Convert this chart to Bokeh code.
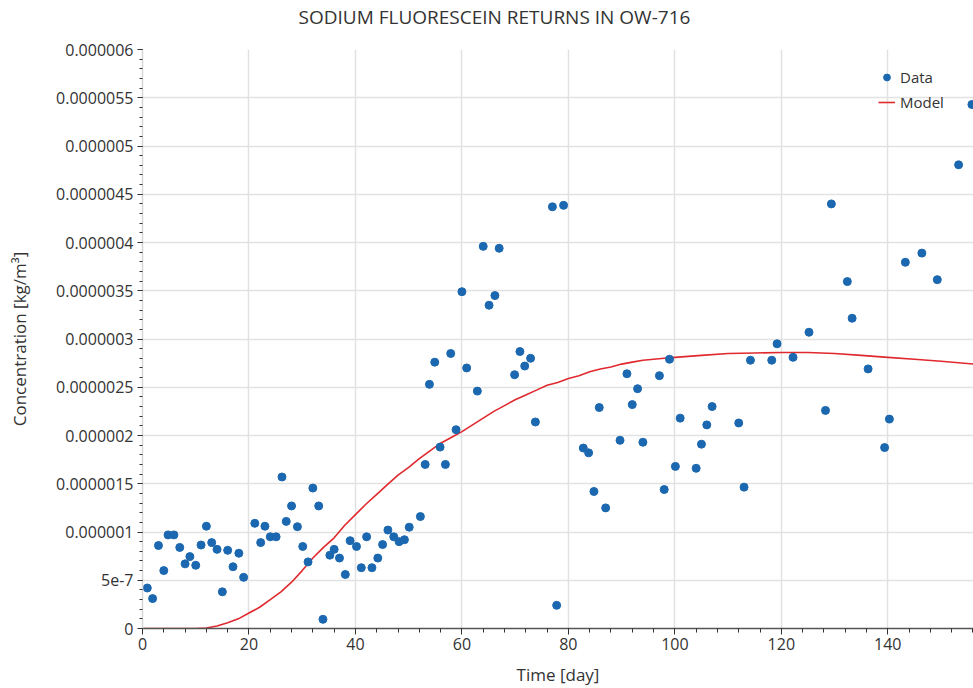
from bokeh.plotting import figure
from bokeh.models import (ColumnDataSource, Range1d, FixedTicker, Title,
                          CustomJSTickFormatter, Legend, LegendItem)
from bokeh.embed import file_html
from bokeh.resources import INLINE

# ---------------- data ----------------
time_data = [0.9, 1.9, 3.0, 4.0, 4.8, 5.9, 7.0, 8.0, 8.9, 10.0, 11.0, 12.0, 13.0, 14.0,
             15.0, 16.0, 17.0, 18.1, 19.0, 21.1, 22.2, 23.0, 24.0, 25.1, 26.2, 27.0,
             28.0, 29.1, 30.1, 31.1, 32.0, 33.1, 33.9, 35.2, 36.0, 37.0, 38.1, 39.0,
             40.2, 41.1, 42.1, 43.1, 44.2, 45.1, 46.1, 47.2, 48.2, 49.2, 50.1, 52.2,
             53.1, 53.9, 54.9, 55.9, 56.9, 57.9, 58.9, 60.0, 60.9, 62.9, 64.0, 65.1,
             66.2, 67.0, 69.9, 70.9, 71.8, 72.9, 73.8, 77.0, 77.8, 79.1, 82.8, 83.8,
             84.8, 85.8, 87.0, 89.7, 91.0, 92.0, 93.0, 94.0, 97.1, 98.0, 99.0, 100.1,
             101.0, 104.0, 105.0, 106.0, 107.0, 112.0, 113.0, 114.2, 118.2, 119.2,
             122.2, 125.2, 128.3, 129.4, 132.4, 133.3, 136.3, 139.4, 140.3, 143.3,
             146.4, 149.3, 153.3, 155.8]
conc_data = [4.2e-7, 3.1e-7, 8.6e-7, 6.0e-7, 9.7e-7, 9.7e-7, 8.4e-7, 6.7e-7, 7.45e-7,
             6.55e-7, 8.65e-7, 1.06e-6, 8.9e-7, 8.2e-7, 3.8e-7, 8.1e-7, 6.4e-7, 7.8e-7,
             5.3e-7, 1.09e-6, 8.9e-7, 1.06e-6, 9.5e-7, 9.5e-7, 1.57e-6, 1.11e-6, 1.27e-6,
             1.055e-6, 8.5e-7, 6.9e-7, 1.455e-6, 1.27e-6, 9.5e-8, 7.6e-7, 8.2e-7, 7.3e-7,
             5.6e-7, 9.1e-7, 8.5e-7, 6.3e-7, 9.5e-7, 6.3e-7, 7.3e-7, 8.7e-7, 1.02e-6,
             9.5e-7, 9.0e-7, 9.2e-7, 1.05e-6, 1.16e-6, 1.70e-6, 2.53e-6, 2.76e-6, 1.88e-6,
             1.70e-6, 2.85e-6, 2.06e-6, 3.49e-6, 2.70e-6, 2.46e-6, 3.96e-6, 3.35e-6,
             3.45e-6, 3.94e-6, 2.63e-6, 2.87e-6, 2.72e-6, 2.80e-6, 2.14e-6, 4.37e-6,
             2.4e-7, 4.385e-6, 1.87e-6, 1.82e-6, 1.42e-6, 2.29e-6, 1.25e-6, 1.95e-6,
             2.64e-6, 2.32e-6, 2.485e-6, 1.93e-6, 2.62e-6, 1.44e-6, 2.79e-6, 1.68e-6,
             2.18e-6, 1.66e-6, 1.91e-6, 2.11e-6, 2.30e-6, 2.13e-6, 1.465e-6, 2.78e-6,
             2.78e-6, 2.95e-6, 2.81e-6, 3.07e-6, 2.26e-6, 4.40e-6, 3.595e-6, 3.215e-6,
             2.69e-6, 1.875e-6, 2.17e-6, 3.795e-6, 3.89e-6, 3.615e-6, 4.805e-6, 5.43e-6]

model_time = [0, 5, 10, 12, 14, 16, 18, 20, 22, 24, 26, 28, 30, 32, 34, 36, 38, 40, 42,
              44, 46, 48, 50, 52, 54, 56, 58, 60, 62, 64, 66, 68, 70, 72, 74, 76, 78,
              80, 82, 84, 86, 88, 90, 92, 94, 96, 98, 100, 105, 110, 115, 120, 125,
              130, 135, 140, 145, 150, 156.2]
model_conc = [0.0, 0.0, 0.0, 5e-9, 2.5e-8, 6e-8, 1.0e-7, 1.6e-7, 2.2e-7, 3.0e-7, 3.8e-7,
              4.8e-7, 6.0e-7, 7.3e-7, 8.4e-7, 9.4e-7, 1.07e-6, 1.18e-6, 1.29e-6, 1.39e-6,
              1.49e-6, 1.59e-6, 1.67e-6, 1.76e-6, 1.84e-6, 1.92e-6, 1.98e-6, 2.04e-6,
              2.11e-6, 2.18e-6, 2.25e-6, 2.31e-6, 2.37e-6, 2.42e-6, 2.47e-6, 2.52e-6,
              2.55e-6, 2.59e-6, 2.62e-6, 2.66e-6, 2.69e-6, 2.71e-6, 2.74e-6, 2.76e-6,
              2.78e-6, 2.79e-6, 2.80e-6, 2.81e-6, 2.83e-6, 2.85e-6, 2.855e-6, 2.86e-6,
              2.86e-6, 2.85e-6, 2.83e-6, 2.81e-6, 2.79e-6, 2.77e-6, 2.74e-6]

x_tick_values = [0, 20, 40, 60, 80, 100, 120, 140]
y_tick_values = [0, 5e-7, 1e-6, 1.5e-6, 2e-6, 2.5e-6, 3e-6, 3.5e-6, 4e-6, 4.5e-6,
                 5e-6, 5.5e-6, 6e-6]
y_tick_labels = ["0", "5e-7", "0.000001", "0.0000015", "0.000002", "0.0000025",
                 "0.000003", "0.0000035", "0.000004", "0.0000045", "0.000005",
                 "0.0000055", "0.000006"]

title_text = "SODIUM FLUORESCEIN RETURNS IN OW-716"
x_label = "Time [day]"
y_label = "Concentration [kg/m\u00b3]"
series_names = ["Data", "Model"]

# ---------------- style ----------------
FONT = "Open Sans"
TXT = "#333333"
BLUE = "#1b68b0"
RED = "#e0292e"
GRID = "#e2e2e2"

p = figure(width=973, height=688, output_backend="svg", toolbar_location=None,
           x_range=Range1d(0, 156.1), y_range=Range1d(0, 6e-6),
           min_border_left=142, min_border_right=0, min_border_top=49,
           min_border_bottom=59)
p.outline_line_color = None
p.background_fill_color = "white"
p.border_fill_color = "white"

p.title.text = title_text
p.title.align = "left"
p.title.offset = 156
p.title.standoff = 2
p.title.text_font = FONT
p.title.text_font_size = "19px"
p.title.text_font_style = "normal"
p.title.text_color = TXT
# blank spacer between the title and the plot frame
p.add_layout(Title(text=" ", text_font_size="1px", standoff=16), "above")

src_model = ColumnDataSource(dict(x=model_time, y=model_conc))
src_data = ColumnDataSource(dict(x=time_data, y=conc_data))
r_model = p.line("x", "y", source=src_model, line_color=RED, line_width=1.6)
r_data = p.scatter("x", "y", source=src_data, size=8, fill_color=BLUE,
                   line_color=BLUE)

# axes
p.xaxis.ticker = FixedTicker(ticks=x_tick_values, minor_ticks=list(range(0, 157, 4)))
p.yaxis.ticker = FixedTicker(ticks=y_tick_values,
                             minor_ticks=[i * 1e-7 for i in range(61)])
p.yaxis.formatter = CustomJSTickFormatter(args=dict(vals=y_tick_values, labs=y_tick_labels), code="""
let best = 0, d = Infinity;
for (let i = 0; i < vals.length; i++) {
  const e = Math.abs(vals[i] - tick);
  if (e < d) { d = e; best = i; }
}
return labs[best];
""")

for ax in (p.xaxis[0], p.yaxis[0]):
    ax.major_label_text_font = FONT
    ax.major_label_text_font_size = "16px"
    ax.major_label_text_color = TXT
    ax.axis_label_text_font = FONT
    ax.axis_label_text_font_size = "17px"
    ax.axis_label_text_font_style = "normal"
    ax.axis_label_text_color = TXT
    ax.major_tick_in = 0
    ax.minor_tick_in = 0
    ax.major_tick_line_color = "#333333"
    ax.minor_tick_line_color = "#333333"

p.xaxis.axis_label = x_label
p.yaxis.axis_label = y_label
p.xaxis.axis_line_color = "#555555"
p.xaxis.axis_line_width = 1.5
p.xaxis.major_tick_out = 6
p.xaxis.minor_tick_out = 4
p.xaxis.major_label_standoff = 3
p.xaxis.axis_label_standoff = 10
p.yaxis.axis_line_color = "#d6d6d6"
p.yaxis.axis_line_width = 1.5
p.yaxis.major_tick_out = 5
p.yaxis.minor_tick_out = 3
p.yaxis.major_label_standoff = 4
p.yaxis.axis_label_standoff = 22

p.xgrid.grid_line_color = GRID
p.xgrid.grid_line_width = 1.5
p.ygrid.grid_line_color = GRID
p.ygrid.grid_line_width = 1.5

legend = Legend(items=[LegendItem(label=series_names[0], renderers=[r_data]),
                       LegendItem(label=series_names[1], renderers=[r_model])],
                location=(736, 516), padding=0, margin=0, spacing=5,
                label_height=20, glyph_height=20, glyph_width=17, label_standoff=5,
                border_line_color=None, background_fill_alpha=0,
                label_text_font=FONT, label_text_font_size="15px",
                label_text_color=TXT)
p.add_layout(legend)

open("out.html", "w").write(file_html(p, INLINE))
